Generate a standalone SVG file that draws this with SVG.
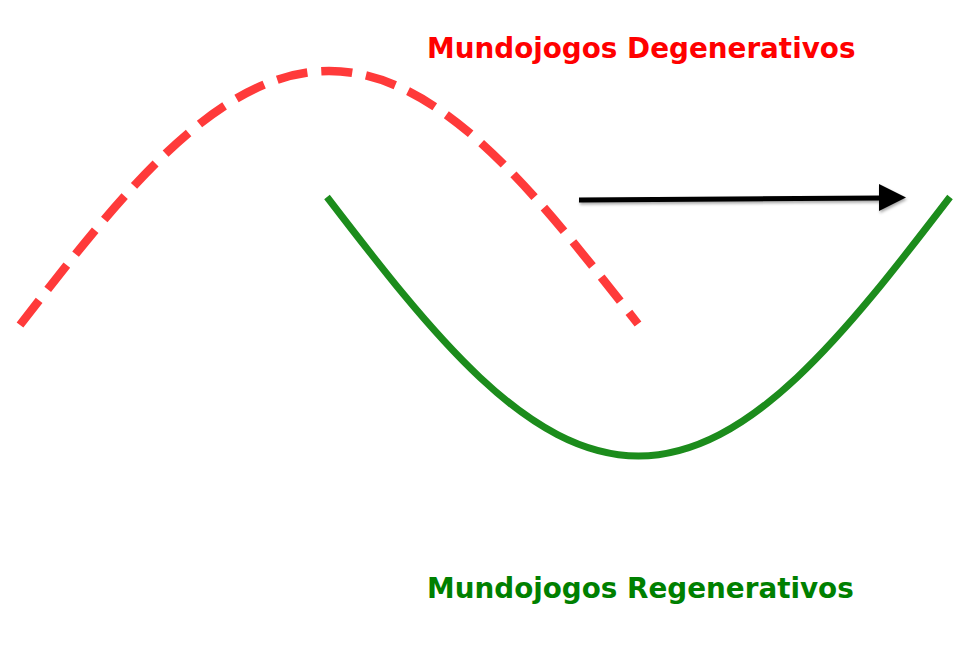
<svg xmlns="http://www.w3.org/2000/svg" width="969" height="656" viewBox="0 0 969 656">
  <style>
    .lbl { font-family: "DejaVu Sans", "Liberation Sans", sans-serif; font-weight: bold; font-size: 27.8px; }
    .red { fill: #ff0000; }
    .grn { fill: #008000; }
    .degen { fill: none; stroke: #ff3a3a; stroke-width: 8.5; stroke-dasharray: 31 14; }
    .regen { fill: none; stroke: #1c8c1c; stroke-width: 7; }
  </style>
  <defs>
    <filter id="shadow" x="-10%" y="-50%" width="120%" height="200%">
      <feDropShadow dx="1" dy="2" stdDeviation="1.5" flood-color="#000" flood-opacity="0.35"/>
    </filter>
  </defs>
  <rect width="969" height="656" fill="#ffffff"/>
  <g id="connectors">
    <path id="degenerative-curve" class="degen" d="M20,325 C123.3,191.2 218.3,71 329,71 C439.7,71 534.7,191.2 638,324"/>
    <path id="regenerative-curve" class="regen" d="M327,197 C431.1,333 527,456 638.5,456 C750,456 845.9,333 950,197"/>
    <g id="arrow" filter="url(#shadow)">
      <line x1="579" y1="200" x2="882" y2="198" stroke="#000" stroke-width="5"/>
      <polygon points="879,184 906,197.5 879,211" fill="#000"/>
    </g>
  </g>
  <g id="label-degenerativos">
    <text class="lbl red" x="427" y="57.5">Mundojogos Degenerativos</text>
  </g>
  <g id="label-regenerativos">
    <text class="lbl grn" x="427" y="597.5">Mundojogos Regenerativos</text>
  </g>
</svg>
